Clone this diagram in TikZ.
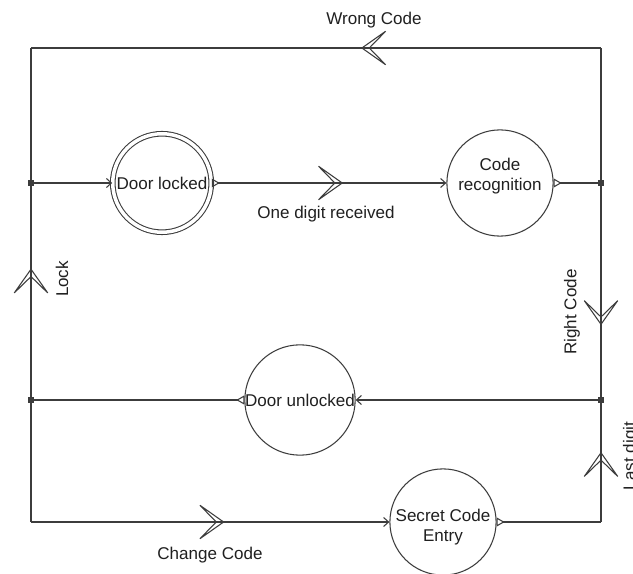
\documentclass[tikz,border=0pt]{standalone}
\usepackage{fontspec}
\setmainfont{Liberation Sans}
\usetikzlibrary{arrows.meta,positioning,decorations.markings}
\definecolor{linegray}{HTML}{3C3C3C}
\definecolor{inkgray}{HTML}{202020}

\tikzset{
  state/.style={circle,draw=linegray,line width=0.6pt,minimum size=2.08cm,inner sep=0pt,align=center,text=inkgray},
  junction/.style={rectangle,fill=linegray,minimum size=0.11cm,inner sep=0pt},
  flow/.style={draw=linegray,line width=0.6pt},
  entry/.style={-{Straight Barb[length=0.1cm,width=0.18cm]}},
  leave/.style={{Triangle[open,reversed,length=0.16cm,width=0.18cm]}-},
  pass/.style={{Triangle[open,reversed,length=0.16cm,width=0.18cm]}-{Straight Barb[length=0.1cm,width=0.18cm]}},
  chev/.style={postaction={decorate},decoration={markings,
    mark=at position #1 with {\arrow{Stealth[open,length=0.58cm,width=0.82cm,inset=0.4cm]}}}},
  lbl/.style={inner sep=0pt,text=inkgray}
}
\newcommand\twoline[3]{\raisebox{#1}[\height][\depth]{\parbox{2cm}{\centering #2\\#3}}}

\begin{document}
\begin{tikzpicture}[x=0.02cm,y=-0.02cm,font=\fontsize{9.7}{11.6}\selectfont]
  \useasboundingbox[fill=white] (0,0) rectangle (633,574);
  % states
  \node[state,double,double distance=0.07cm,minimum size=1.97cm] (locked) at (162,183) {Door locked};
  \node[state] (recog) at (500,183) {\twoline{0.14cm}{Code}{recognition}};
  \node[state] (unlocked) at (300,400) {Door unlocked};
  \node[state] (secret) at (443,522) {\twoline{-0.1cm}{Secret Code}{Entry}};
  % junctions and corners
  \node[junction] (j1) at (31,183) {};
  \node[junction] (j2) at (601,183) {};
  \node[junction] (j3) at (31,400) {};
  \node[junction] (j4) at (601,400) {};
  \coordinate (tl) at (31,48);
  \coordinate (tr) at (601,48);
  \coordinate (bl) at (31,522);
  \coordinate (br) at (601,522);
  % top loop
  \draw[flow,entry] (j1) -- (locked);
  \draw[flow,pass,chev=0.56] (locked) -- (recog);
  \draw[flow,leave] (recog) -- (j2);
  \draw[flow] (j2) -- (tr);
  \draw[flow,chev=0.421] (tr) -- (tl);
  \draw[flow] (tl) -- (j1);
  % right side
  \draw[flow,chev=0.66] (j2) -- (j4);
  \draw[flow,entry] (j4) -- (unlocked);
  \draw[flow,leave] (unlocked) -- (j3);
  \draw[flow,chev=0.61] (j3) -- (j1);
  % bottom
  \draw[flow] (j3) -- (bl);
  \draw[flow,entry,chev=0.54] (bl) -- (secret);
  \draw[flow,leave] (secret) -- (br);
  \draw[flow,chev=0.59] (br) -- (j4);
  % labels
  \node[lbl] (wrongtxt) at (374,20) {Wrong Code};
  \node[lbl] (digittxt) at (326,214) {One digit received};
  \node[lbl,rotate=90] (locktxt) at (62,279) {Lock};
  \node[lbl,rotate=90] (righttxt) at (572,312) {Right Code};
  \node[lbl,rotate=90] (lasttxt) at (631,456) {Last digit};
  \node[lbl] (changetxt) at (210,555) {Change Code};
\end{tikzpicture}
\end{document}
